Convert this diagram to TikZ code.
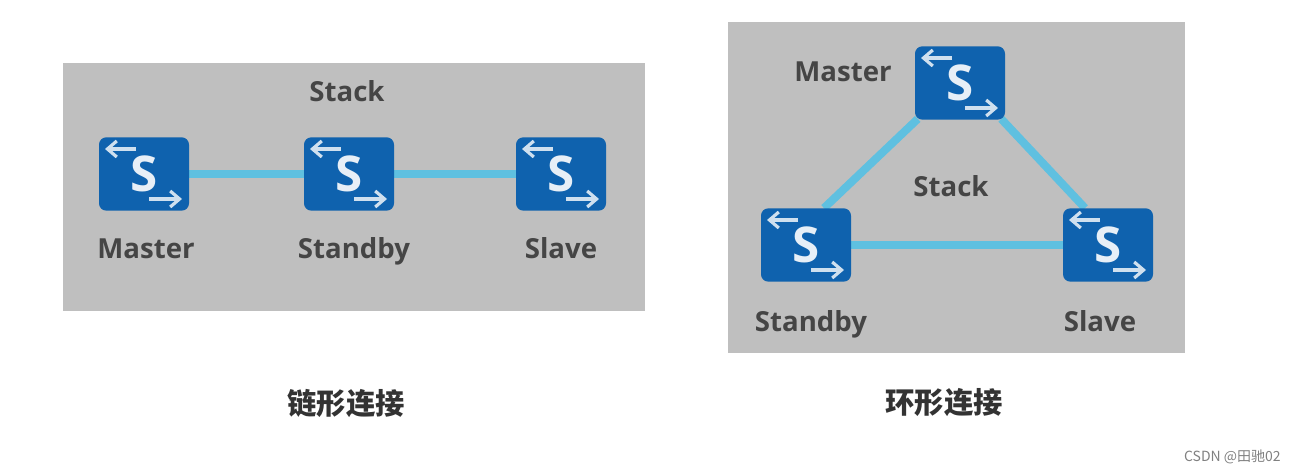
\documentclass[tikz,border=0pt]{standalone}
\usepackage{fontspec}
\setmainfont{Open Sans}
\newfontfamily\cjkfont{Noto Sans CJK SC}
\usetikzlibrary{backgrounds,calc,arrows.meta}
\definecolor{panelgray}{HTML}{BFBFBF}
\definecolor{switchblue}{HTML}{0F62AE}
\definecolor{linkblue}{HTML}{5FC0E0}
\definecolor{labelgray}{HTML}{454545}
\tikzset{
  x=0.75pt,y=-0.75pt,
  panel/.style={fill=panelgray,draw=none},
  switchbox/.style={fill=switchblue,draw=none,rounded corners=5.5pt,minimum width=67.5pt,minimum height=55pt,inner sep=0pt,text=white!90!switchblue,font=\fontsize{37}{37}\selectfont\bfseries},
  link/.style={draw=linkblue,line width=6pt},
  swarrow/.style={draw=white!80!switchblue,line width=2.4pt,-{Straight Barb[length=7pt,width=12pt,line width=2.4pt]}},
  lbl/.style={text=labelgray,font=\fontsize{20.7}{21}\selectfont\bfseries,inner sep=0pt,anchor=base},
  caption/.style={text=black!80,font=\cjkfont\fontsize{22}{22}\selectfont\bfseries,inner sep=0pt},
  wmark/.style={text=black!50,font=\cjkfont\fontsize{10.5}{11}\selectfont,inner sep=0pt}
}
\newcommand{\swnode}[3]{%
  \node[switchbox] (#1) at (#2,#3) {S};
  \draw[swarrow] ($(#1.center)+(-8,-25)$) -- ($(#1.center)+(-39,-25)$);
  \draw[swarrow] ($(#1.center)+(5,25)$) -- ($(#1.center)+(38,25)$);
}
\begin{document}
\begin{tikzpicture}
\useasboundingbox (0,0) rectangle (1295,473);
\begin{scope}[on background layer]
  \fill[panel] (63,63) rectangle (645,311);
  \fill[panel] (728,22) rectangle (1185,353);
\end{scope}
\swnode{a}{144}{174}
\swnode{b}{349}{174}
\swnode{c}{561}{174}
\swnode{m}{960}{83}
\swnode{s}{806}{245}
\swnode{v}{1108}{245}
\begin{scope}[on background layer]
  \draw[link] (a) -- (b);
  \draw[link] (b) -- (c);
  \draw[link] ($(m.south west)+(3,-1)$) -- ($(s.north)+(18,0)$);
  \draw[link] ($(m.south east)+(-4,-1)$) -- ($(v.north)+(-23,0)$);
  \draw[link] (s) -- (v);
\end{scope}
\node[lbl] (t1) at (347,102) {Stack};
\node[lbl] (t2) at (146,259) {Master};
\node[lbl] (t3) at (354,259) {Standby};
\node[lbl] (t4) at (561,259) {Slave};
\node[lbl] (t5) at (843,82) {Master};
\node[lbl] (t6) at (951,197) {Stack};
\node[lbl] (t7) at (811,332) {Standby};
\node[lbl] (t8) at (1100,332) {Slave};
\node[caption] (c1) at (346,403) {链形连接};
\node[caption] (c2) at (944,403) {环形连接};
\node[wmark,anchor=east] (w) at (1281,457) {CSDN @田驰02};
\end{tikzpicture}
\end{document}
